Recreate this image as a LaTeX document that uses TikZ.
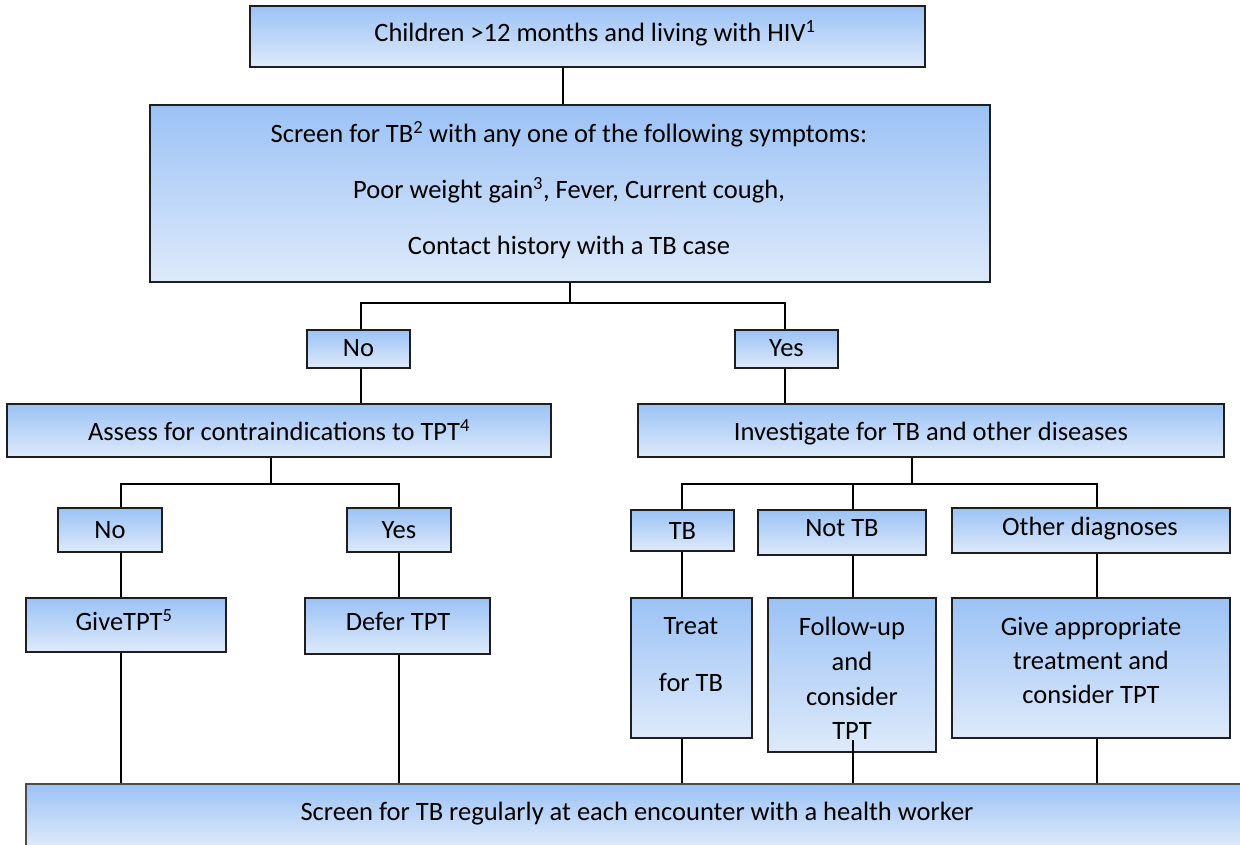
\documentclass[tikz,border=0pt]{standalone}
\usepackage{fontspec}
\setmainfont{Carlito}
\usetikzlibrary{calc}
\definecolor{boxtop}{RGB}{155,194,245}
\definecolor{boxbot}{RGB}{222,234,250}
\definecolor{edge}{RGB}{30,30,30}
\begin{document}
\begin{tikzpicture}[x=1pt,y=-1pt,
  box/.style={rectangle, draw=edge, line width=2pt, top color=boxtop, bottom color=boxbot, inner sep=0pt},
  txt/.style={anchor=base, inner sep=0pt, yshift=-1.5pt, font=\fontsize{26.5}{30}\selectfont},
  wire/.style={draw=black, line width=1.6pt}]
\useasboundingbox (0,0) rectangle (1240,844);
\clip (0,0) rectangle (1240,844);

% boxes
\node[box, minimum width=675, minimum height=61]  (top)    at (587.5,36.5) {};
\node[box, minimum width=840, minimum height=177] (screen) at (570,193.5) {};
\node[box, minimum width=103, minimum height=38]  (no1)    at (358.5,349) {};
\node[box, minimum width=103, minimum height=38]  (yes1)   at (786.5,349) {};
\node[box, minimum width=544, minimum height=53]  (assess) at (279,430.5) {};
\node[box, minimum width=586, minimum height=53]  (invest) at (931,430.5) {};
\node[box, minimum width=104, minimum height=44]  (no2)    at (110,530) {};
\node[box, minimum width=104, minimum height=44]  (yes2)   at (399,530) {};
\node[box, minimum width=103, minimum height=41]  (tb)     at (682.5,530.5) {};
\node[box, minimum width=168, minimum height=45]  (nottb)  at (842,532.5) {};
\node[box, minimum width=278, minimum height=45]  (other)  at (1091,530.5) {};
\node[box, minimum width=200, minimum height=54]  (give)   at (126,625) {};
\node[box, minimum width=185, minimum height=56]  (defer)  at (397.5,626) {};
\node[box, minimum width=121, minimum height=140] (treat)  at (691.5,668) {};
\node[box, minimum width=168, minimum height=154] (follow) at (852,675) {};
\node[box, minimum width=278, minimum height=140] (approp) at (1091,668) {};
\node[box, draw=gray!60!black, minimum width=1224, minimum height=62] (bottom) at (638,815) {};

% texts
\node[txt] (tTop)  at (595,40)  {Children >12 months and living with HIV\textsuperscript{1}};
\node[txt] (tS1)   at (569,141) {Screen for TB\textsuperscript{2} with any one of the following symptoms:};
\node[txt] (tS2)   at (569,197) {Poor weight gain\textsuperscript{3}, Fever, Current cough,};
\node[txt] (tS3)   at (569,253) {Contact history with a TB case};
\node[txt] (tNo1)  at (358.5,355) {No};
\node[txt] (tYes1) at (786.5,355) {Yes};
\node[txt] (tAss)  at (279,439) {Assess for contraindications to TPT\textsuperscript{4}};
\node[txt] (tInv)  at (931,439) {Investigate for TB and other diseases};
\node[txt] (tNo2)  at (110,537) {No};
\node[txt] (tYes2) at (399,537) {Yes};
\node[txt] (tTB)   at (682.5,538) {TB};
\node[txt] (tNot)  at (842,535) {Not TB};
\node[txt] (tOth)  at (1090,534) {Other diagnoses};
\node[txt] (tGive) at (124,629) {GiveTPT\textsuperscript{5}};
\node[txt] (tDef)  at (398,629) {Defer TPT};
\node[txt] (tTr1)  at (691,633) {Treat};
\node[txt] (tTr2)  at (691,690) {for TB};
\node[txt] (tFo1)  at (852,634) {Follow-up};
\node[txt] (tFo2)  at (852,669) {and};
\node[txt] (tFo3)  at (852,704) {consider};
\node[txt] (tFo4)  at (852,738) {TPT};
\node[txt] (tAp1)  at (1091,634) {Give appropriate};
\node[txt] (tAp2)  at (1091,668) {treatment and};
\node[txt] (tAp3)  at (1091,702) {consider TPT};
\node[txt] (tBot)  at (637,819) {Screen for TB regularly at each encounter with a health worker};

% branch points and drop lines
\coordinate (j1) at (570,303);
\coordinate (j2) at (271,484);
\coordinate (j3) at (912,484);
\coordinate (xt) at (563,0);
\coordinate (xn) at (361,0);
\coordinate (xy) at (785,0);
\coordinate (xa) at (121,0);
\coordinate (xb) at (399,0);
\coordinate (xc) at (682,0);
\coordinate (xd) at (853,0);
\coordinate (xe) at (1097,0);
\coordinate (fstub) at (853,740);

% connectors
\draw[wire] (top.south -| xt) -- (screen.north -| xt);
\draw[wire] (screen.south -| j1) -- (j1);
\draw[wire] (no1.north -| xn) -- (j1 -| xn) -- (j1 -| xy) -- (yes1.north -| xy);
\draw[wire] (no1.south -| xn) -- (assess.north -| xn);
\draw[wire] (yes1.south -| xy) -- (invest.north -| xy);

\draw[wire] (assess.south -| j2) -- (j2);
\draw[wire] (no2.north -| xa) -- (j2 -| xa) -- (j2 -| xb) -- (yes2.north -| xb);
\draw[wire] (no2.south -| xa) -- (give.north -| xa);
\draw[wire] (yes2.south -| xb) -- (defer.north -| xb);
\draw[wire] (give.south -| xa) -- (bottom.north -| xa);
\draw[wire] (defer.south -| xb) -- (bottom.north -| xb);

\draw[wire] (invest.south -| j3) -- (j3);
\draw[wire] (tb.north -| xc) -- (j3 -| xc) -- (j3 -| xe) -- (other.north -| xe);
\draw[wire] (j3 -| xd) -- (nottb.north -| xd);
\draw[wire] (tb.south -| xc) -- (treat.north -| xc);
\draw[wire] (nottb.south -| xd) -- (follow.north -| xd);
\draw[wire] (other.south -| xe) -- (approp.north -| xe);
\draw[wire] (treat.south -| xc) -- (bottom.north -| xc);
\draw[wire] (fstub) -- (bottom.north -| xd);
\draw[wire] (approp.south -| xe) -- (bottom.north -| xe);
\end{tikzpicture}
\end{document}
